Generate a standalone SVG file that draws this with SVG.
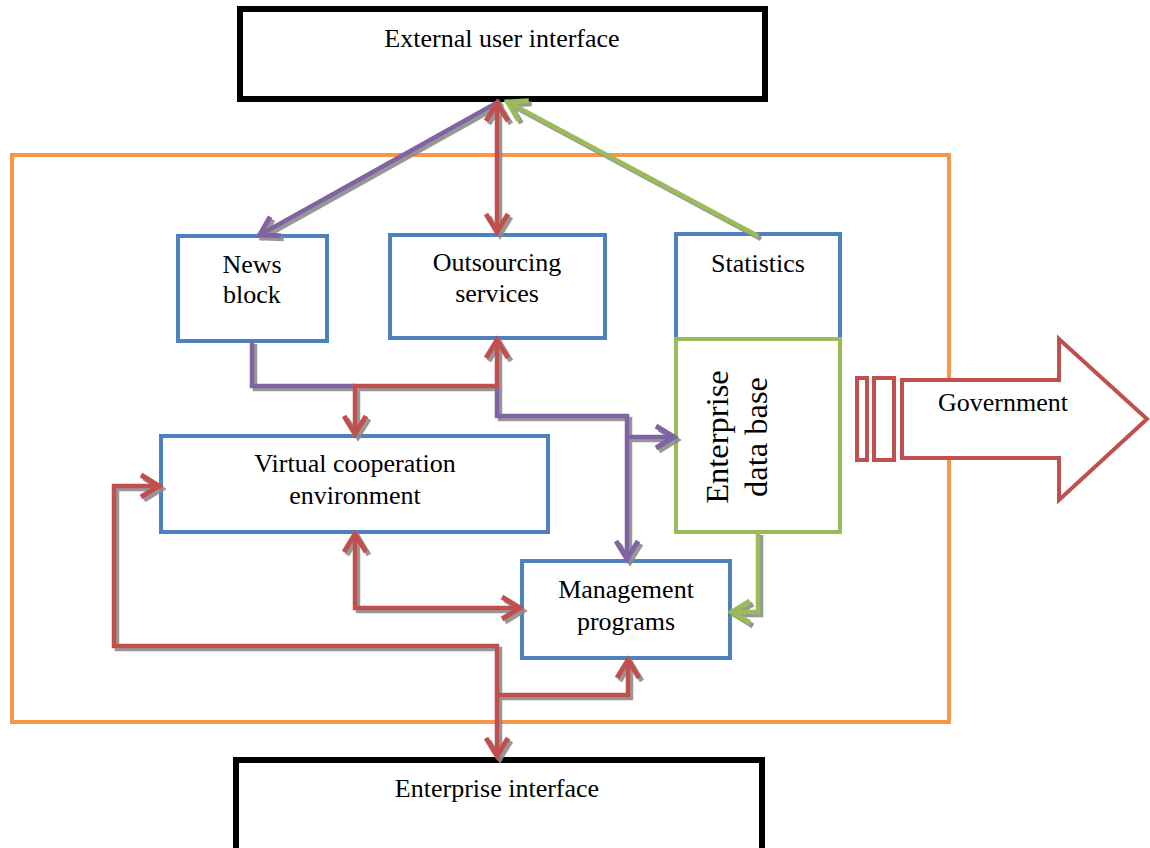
<svg xmlns="http://www.w3.org/2000/svg" width="1150" height="848" viewBox="0 0 1150 848">
<style>
text{font-family:"Liberation Serif","Times New Roman",serif;font-size:26px;fill:#000;text-anchor:middle}
.blue{fill:#fff;stroke:#4F81BD;stroke-width:4}
.green{fill:#fff;stroke:#9BBB59;stroke-width:4}
.black{fill:#fff;stroke:#000;stroke-width:6}
.c{fill:none;stroke-width:4.5;stroke-linejoin:miter}
.r{stroke:#C0504D}.p{stroke:#8064A2}.g{stroke:#9BBB59}
</style>
<defs>
<filter id="sh" x="-10%" y="-10%" width="120%" height="120%">
<feDropShadow dx="3" dy="3" stdDeviation="0.6" flood-color="#8c8c8c" flood-opacity="0.9"/>
</filter>
<marker id="mr" viewBox="-22 -14 28 28" refX="0" refY="0" markerWidth="28" markerHeight="28" markerUnits="userSpaceOnUse" orient="auto-start-reverse" overflow="visible"><path d="M-20,-11 L-2,0 L-20,11" fill="none" stroke="#C0504D" stroke-width="5"/></marker>
<marker id="mp" viewBox="-22 -14 28 28" refX="0" refY="0" markerWidth="28" markerHeight="28" markerUnits="userSpaceOnUse" orient="auto-start-reverse" overflow="visible"><path d="M-20,-11 L-2,0 L-20,11" fill="none" stroke="#8064A2" stroke-width="5"/></marker>
<marker id="mg" viewBox="-22 -14 28 28" refX="0" refY="0" markerWidth="28" markerHeight="28" markerUnits="userSpaceOnUse" orient="auto-start-reverse" overflow="visible"><path d="M-20,-11 L-2,0 L-20,11" fill="none" stroke="#9BBB59" stroke-width="5"/></marker>
</defs>
<rect width="1150" height="848" fill="#fff"/>
<rect id="container" x="12" y="155" width="937" height="567" fill="none" stroke="#F79646" stroke-width="4"/>
<g id="external"><rect class="black" x="240" y="9" width="525" height="90"/><text x="502" y="47">External user interface</text></g>
<g id="enterprise-interface"><rect class="black" x="236" y="760" width="526" height="100"/><text x="497" y="797">Enterprise interface</text></g>
<g id="news"><rect class="blue" x="178" y="236" width="149" height="105"/><text x="252" y="273">News</text><text x="252" y="303">block</text></g>
<g id="outsourcing"><rect class="blue" x="390" y="235" width="215" height="103"/><text x="497" y="271">Outsourcing</text><text x="497" y="302">services</text></g>
<g id="statistics"><rect class="blue" x="676" y="234" width="164" height="105"/><text x="758" y="272">Statistics</text></g>
<g id="database"><rect class="green" x="676" y="339" width="164" height="193"/><text transform="translate(728,437) rotate(-90)" style="font-size:32.5px">Enterprise</text><text transform="translate(767,437) rotate(-90)" style="font-size:32.5px">data base</text></g>
<g id="vce"><rect class="blue" x="161" y="436" width="387" height="96"/><text x="355" y="472">Virtual cooperation</text><text x="355" y="504">environment</text></g>
<g id="management"><rect class="blue" x="522" y="561" width="208" height="97"/><text x="626" y="598">Management</text><text x="626" y="630">programs</text></g>
<g id="government"><rect x="857" y="378" width="10" height="82" fill="#fff" stroke="#C0504D" stroke-width="4"/><rect x="874" y="378" width="20" height="82" fill="#fff" stroke="#C0504D" stroke-width="4"/><polygon points="902,380 1059,380 1059,339 1147,419 1059,500 1059,458 902,458" fill="#fff" stroke="#C0504D" stroke-width="4"/><text x="1003" y="411">Government</text></g>
<g id="connectors" filter="url(#sh)">
<path class="c p" d="M252,341 L252,386 L355,386"/>
<path class="c p" d="M497,386 L497,416 L627,416 L627,561" marker-end="url(#mp)"/>
<path class="c p" d="M627,437 L676,437" marker-end="url(#mp)"/>
<path class="c r" d="M497,338 L497,386 L355,386 L355,436" marker-start="url(#mr)" marker-end="url(#mr)"/>
<path class="c r" d="M355,532 L355,608 L522,608" marker-start="url(#mr)" marker-end="url(#mr)"/>
<path class="c r" d="M161,486 L114,486 L114,646 L497,646 L497,758" marker-start="url(#mr)" marker-end="url(#mr)"/>
<path class="c r" d="M497,695 L628,695 L628,658" marker-end="url(#mr)"/>
<path class="c g" d="M758,532 L758,612 L730,612" marker-end="url(#mg)"/>
<path class="c p" d="M500,101 L258,236" marker-end="url(#mp)"/>
<path class="c g" d="M758,236 L506,101" marker-end="url(#mg)"/>
<path class="c r" d="M497,101 L497,234" marker-start="url(#mr)" marker-end="url(#mr)"/>
</g>
</svg>
